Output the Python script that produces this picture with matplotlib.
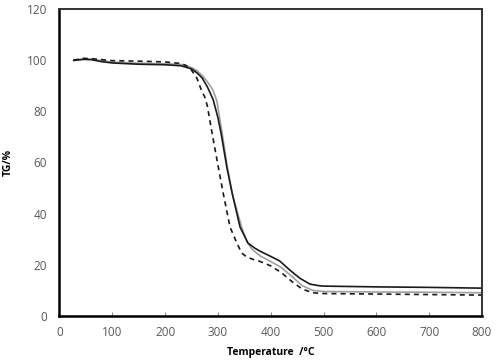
import matplotlib
matplotlib.use('Agg')
from matplotlib import pyplot as plt

# Temperature (deg C) and mass (%)
t_black = [27, 45, 60, 80, 100, 150, 200, 230, 250, 260, 270, 280, 291, 300, 306, 317, 327, 342,
           357, 370, 380, 400, 417, 436, 455, 474, 490, 500, 600, 700, 800]
w_black = [99.8, 100.2, 100.1, 99.3, 98.8, 98.3, 98.1, 97.7, 96.5, 95.0, 93.0, 89.5, 84.5, 77.5,
           71.4, 58.0, 48.0, 34.7, 28.5, 26.5, 25.3, 23.3, 21.5, 18.0, 14.8, 12.5, 11.9, 11.7,
           11.4, 11.2, 10.9]

t_gray = [27, 50, 70, 100, 150, 200, 230, 250, 260, 270, 280, 290, 298, 308, 318, 328, 345,
          355, 365, 380, 400, 420, 440, 460, 480, 500, 600, 700, 800]
w_gray = [99.8, 100.4, 100.0, 99.1, 98.7, 98.5, 98.2, 97.0, 95.8, 94.0, 91.5, 88.5, 84.0, 71.4,
          58.0, 47.0, 34.7, 29.0, 26.0, 23.5, 21.3, 19.0, 15.5, 11.8, 10.0, 9.6, 9.4, 9.3, 9.1]

t_dash = [27, 45, 60, 100, 150, 200, 230, 240, 250, 260, 270, 275, 280, 289, 300, 310, 323, 336,
          345, 355, 370, 380, 400, 420, 440, 460, 480, 500, 600, 700, 800]
w_dash = [99.9, 100.6, 100.5, 99.7, 99.5, 99.2, 98.6, 97.8, 96.0, 93.0, 87.5, 85.6, 82.0, 71.4,
          59.0, 48.0, 34.7, 28.5, 24.6, 23.0, 21.9, 21.3, 19.6, 17.0, 13.5, 10.5, 9.1, 8.8, 8.6,
          8.4, 8.2]

x_ticks = [0, 100, 200, 300, 400, 500, 600, 700, 800]
y_ticks = [0, 20, 40, 60, 80, 100, 120]

plt.rcParams['font.family'] = ['Open Sans', 'DejaVu Sans']

fig = plt.figure(figsize=(5.02, 3.6), dpi=100)
ax = fig.add_axes([0.1185, 0.122, 0.8415, 0.854])

ax.plot(t_gray, w_gray, color='#a0a0a0', lw=1.2, solid_joinstyle='round')
ax.plot(t_black, w_black, color='#1a1a1a', lw=1.2, solid_joinstyle='round')
ax.plot(t_dash, w_dash, color='#1a1a1a', lw=1.2, ls=(0, (3, 2.5)))

ax.set_xlim(0, 800)
ax.set_ylim(0, 120)
ax.set_xticks(x_ticks)
ax.set_yticks(y_ticks)
ax.tick_params(axis='x', direction='in', length=3, color='#888888', labelsize=8.5,
               labelcolor='#595959', pad=7)
ax.tick_params(axis='y', length=0, labelsize=8.5, labelcolor='#595959', pad=9)

# Frame: heavy black left/bottom, lighter top/right
for s in ['left', 'bottom']:
    ax.spines[s].set_linewidth(1.8)
    ax.spines[s].set_color('black')
for s in ['top', 'right']:
    ax.spines[s].set_linewidth(1.4)
    ax.spines[s].set_color('#333333')

ax.set_xlabel('Temperature  /°C', fontsize=7.5, fontweight='bold')
ax.set_ylabel('TG/%', fontsize=7.5, fontweight='bold')
ax.xaxis.set_label_coords(0.5, -0.1)
ax.yaxis.set_label_coords(-0.108, 0.5)

fig.savefig('out.png', dpi=100)
